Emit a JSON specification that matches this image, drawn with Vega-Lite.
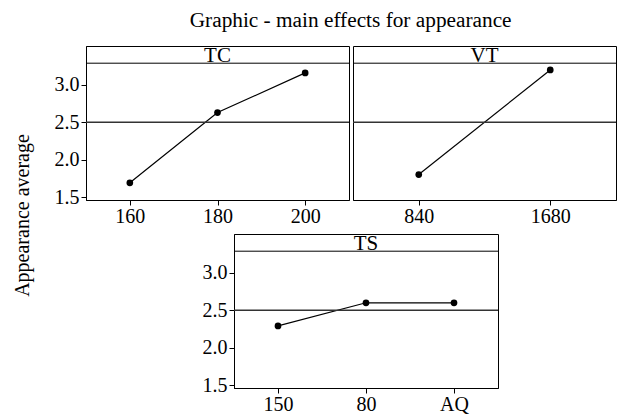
{
  "$schema": "https://vega.github.io/schema/vega-lite/v6.json",
  "padding": {"left": 12, "top": 9, "right": 2, "bottom": 0},
  "title": {"text": "Graphic - main effects for appearance", "font": "Liberation Serif", "fontSize": 21.3, "fontWeight": "normal", "color": "black", "anchor": "middle", "offset": 13, "dx": 36},
  "datasets": {
    "main": [
      {"factor": "TC", "level": "160", "mean": 1.69},
      {"factor": "TC", "level": "180", "mean": 2.63},
      {"factor": "TC", "level": "200", "mean": 3.16},
      {"factor": "VT", "level": "840", "mean": 1.8},
      {"factor": "VT", "level": "1680", "mean": 3.2},
      {"factor": "TS", "level": "150", "mean": 2.29},
      {"factor": "TS", "level": "80", "mean": 2.6},
      {"factor": "TS", "level": "AQ", "mean": 2.6}
    ],
    "grand": [{"overall": 2.5}]
  },
  "bounds": "flush",
  "spacing": 188,
  "vconcat": [
    {
      "spacing": 0,
      "hconcat": [
        {
          "width": 263, "height": 154,
          "layer": [
            {
              "data": {"name": "main"},
              "transform": [{"filter": "datum.factor === 'TC'"}],
              "mark": {"type": "line", "color": "black", "strokeWidth": 1.2, "point": {"filled": true, "color": "black", "size": 45, "opacity": 1}},
              "encoding": {
                "x": {"field": "level", "type": "nominal", "sort": null, "scale": {"padding": 0.5}, "axis": {"title": null, "labelAngle": 0}},
                "y": {"field": "mean", "type": "quantitative", "scale": {"domain": [1.46, 3.52], "nice": false, "zero": false}, "axis": {"title": "Appearance average", "titleX": -53.5, "titleY": 169, "values": [1.5, 2, 2.5, 3], "format": ".1f"}}
              }
            },
            {
              "data": {"name": "grand"},
              "mark": {"type": "rule", "color": "#333", "strokeWidth": 1.5},
              "encoding": {"y": {"field": "overall", "type": "quantitative"}}
            },
            {
              "data": {"values": [{"h": "TC"}]},
              "mark": {"type": "rule", "color": "black", "strokeWidth": 1},
              "encoding": {"y": {"datum": 3.29, "type": "quantitative"}}
            },
            {
              "data": {"values": [{"h": "TC"}]},
              "mark": {"type": "text", "font": "Liberation Serif", "fontSize": 21, "color": "black", "baseline": "middle", "dy": 1},
              "encoding": {"y": {"datum": 3.405, "type": "quantitative"}, "text": {"field": "h", "type": "nominal"}}
            }
          ]
        },
        {
          "width": 263, "height": 154,
          "layer": [
            {
              "data": {"name": "main"},
              "transform": [{"filter": "datum.factor === 'VT'"}],
              "mark": {"type": "line", "color": "black", "strokeWidth": 1.2, "point": {"filled": true, "color": "black", "size": 45, "opacity": 1}},
              "encoding": {
                "x": {"field": "level", "type": "nominal", "sort": null, "scale": {"padding": 0.5}, "axis": {"title": null, "labelAngle": 0}},
                "y": {"field": "mean", "type": "quantitative", "scale": {"domain": [1.46, 3.52], "nice": false, "zero": false}, "axis": null}
              }
            },
            {
              "data": {"name": "grand"},
              "mark": {"type": "rule", "color": "#333", "strokeWidth": 1.5},
              "encoding": {"y": {"field": "overall", "type": "quantitative", "axis": null}}
            },
            {
              "data": {"values": [{"h": "VT"}]},
              "mark": {"type": "rule", "color": "black", "strokeWidth": 1},
              "encoding": {"y": {"datum": 3.29, "type": "quantitative", "axis": null}}
            },
            {
              "data": {"values": [{"h": "VT"}]},
              "mark": {"type": "text", "font": "Liberation Serif", "fontSize": 21, "color": "black", "baseline": "middle", "dy": 1},
              "encoding": {"y": {"datum": 3.405, "type": "quantitative", "axis": null}, "text": {"field": "h", "type": "nominal"}}
            }
          ]
        }
      ]
    },
    {
      "spacing": 0,
      "hconcat": [
        {
          "data": {"values": []},
          "width": 115, "height": 10,
          "view": {"stroke": null},
          "mark": "point",
          "encoding": {}
        },
        {
          "width": 264, "height": 154,
          "layer": [
            {
              "data": {"name": "main"},
              "transform": [{"filter": "datum.factor === 'TS'"}],
              "mark": {"type": "line", "color": "black", "strokeWidth": 1.2, "point": {"filled": true, "color": "black", "size": 45, "opacity": 1}},
              "encoding": {
                "x": {"field": "level", "type": "nominal", "sort": null, "scale": {"padding": 0.5}, "axis": {"title": null, "labelAngle": 0}},
                "y": {"field": "mean", "type": "quantitative", "scale": {"domain": [1.46, 3.52], "nice": false, "zero": false}, "axis": {"title": null, "values": [1.5, 2, 2.5, 3], "format": ".1f"}}
              }
            },
            {
              "data": {"name": "grand"},
              "mark": {"type": "rule", "color": "#333", "strokeWidth": 1.5},
              "encoding": {"y": {"field": "overall", "type": "quantitative"}}
            },
            {
              "data": {"values": [{"h": "TS"}]},
              "mark": {"type": "rule", "color": "black", "strokeWidth": 1},
              "encoding": {"y": {"datum": 3.29, "type": "quantitative"}}
            },
            {
              "data": {"values": [{"h": "TS"}]},
              "mark": {"type": "text", "font": "Liberation Serif", "fontSize": 21, "color": "black", "baseline": "middle", "dy": 1},
              "encoding": {"y": {"datum": 3.405, "type": "quantitative"}, "text": {"field": "h", "type": "nominal"}}
            }
          ]
        }
      ]
    }
  ],
  "config": {
    "view": {"stroke": "black", "strokeWidth": 1},
    "axis": {
      "labelFont": "Liberation Serif", "labelFontSize": 20, "labelColor": "black",
      "titleFont": "Liberation Serif", "titleFontSize": 20, "titleFontWeight": "normal", "titleColor": "black",
      "tickColor": "black", "domainColor": "black", "tickSize": 5, "grid": false
    },
    "axisX": {"labelPadding": 1},
    "axisY": {"labelPadding": 2},
    "scale": {"zero": false}
  }
}
